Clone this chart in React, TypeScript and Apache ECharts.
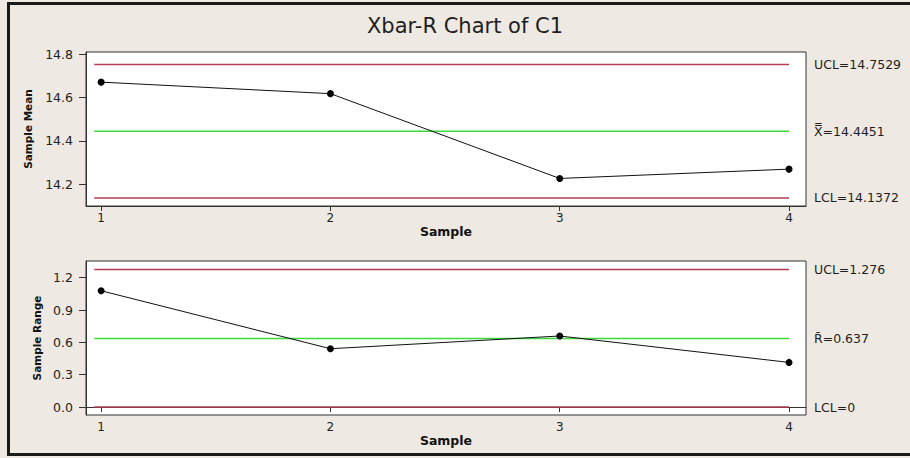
import React, { useEffect, useRef } from 'react';
import * as echarts from 'echarts';

const samples = [1, 2, 3, 4];
const sampleMeans = [14.671, 14.618, 14.227, 14.27];
const sampleRanges = [1.079, 0.541, 0.659, 0.414];
const meanLimits = [14.7529, 14.4451, 14.1372];
const meanLimitLabels = ['UCL=14.7529', 'X\u033F=14.4451', 'LCL=14.1372'];
const rangeLimits = [1.276, 0.637, 0];
const rangeLimitLabels = ['UCL=1.276', 'R\u0304=0.637', 'LCL=0'];
const meanTicks = [14.2, 14.4, 14.6, 14.8];
const rangeTicks = [0, 0.3, 0.6, 0.9, 1.2];
const limitStart = 0.97;

const FONT = 'DejaVu Sans';
const limitColors = ['#b23c50', '#3ddc3d', '#b23c50'];

function limitSeries(values: number[], labels: string[], idx: number) {
  return values.map((v, i) => ({
    type: 'line',
    xAxisIndex: idx,
    yAxisIndex: idx,
    data: [
      [limitStart, v],
      [samples[samples.length - 1], v],
    ],
    symbol: 'none',
    silent: true,
    clip: false,
    lineStyle: { color: limitColors[i], width: 1.5 },
    endLabel: {
      show: true,
      formatter: labels[i],
      distance: 25,
      color: '#1e1e1e',
      fontSize: 12.5,
      fontFamily: FONT,
    },
  }));
}

function xAxis(idx: number) {
  return {
    type: 'value',
    gridIndex: idx,
    min: 0.934,
    max: 4.074,
    axisLine: { show: true, lineStyle: { color: '#333', width: 1 } },
    axisTick: { show: true, customValues: samples, length: 5, lineStyle: { color: '#333' } },
    axisLabel: { customValues: samples, margin: 6, fontSize: 12, color: '#222', fontFamily: FONT },
    splitLine: { show: false },
    name: 'Sample',
    nameLocation: 'middle',
    nameGap: 19,
    nameTextStyle: { fontSize: 12.5, fontWeight: 'bold', color: '#111', fontFamily: FONT },
  };
}

function yAxis(idx: number, min: number, max: number, ticks: number[], name: string, gap: number) {
  return {
    type: 'value',
    gridIndex: idx,
    min,
    max,
    axisLine: { show: true, lineStyle: { color: '#333', width: 1 } },
    axisTick: { show: true, customValues: ticks, length: 7, lineStyle: { color: '#333' } },
    axisLabel: {
      customValues: ticks,
      margin: 13,
      fontSize: 12.5,
      color: '#222',
      fontFamily: FONT,
      formatter: (v: number) => v.toFixed(1),
    },
    splitLine: { show: false },
    name,
    nameLocation: 'middle',
    nameGap: gap,
    nameTextStyle: { fontSize: 10.5, fontWeight: 'bold', color: '#111', fontFamily: FONT },
  };
}

function dataSeries(values: number[], idx: number) {
  return {
    type: 'line',
    xAxisIndex: idx,
    yAxisIndex: idx,
    data: samples.map((s, i) => [s, values[i]]),
    symbol: 'circle',
    symbolSize: 7,
    itemStyle: { color: '#000' },
    lineStyle: { color: '#111', width: 1 },
    silent: true,
  };
}

export default function App() {
  const ref = useRef<HTMLDivElement>(null);
  useEffect(() => {
    if (!ref.current) return;
    const chart = echarts.init(ref.current, undefined, { renderer: 'svg' });
    chart.setOption({
      animation: false,
      backgroundColor: '#eee9e2',
      textStyle: { fontFamily: FONT },
      title: {
        text: 'Xbar-R Chart of C1',
        left: 460,
        textAlign: 'center',
        top: 10,
        textStyle: { fontSize: 21, fontWeight: 'normal', color: '#1e1e1e', fontFamily: FONT },
      },
      graphic: [
        {
          type: 'rect',
          shape: { x: 8.5, y: 3.5, width: 910, height: 451 },
          style: { fill: 'none', stroke: '#1a1a1a', lineWidth: 3 },
          silent: true,
        },
      ],
      grid: [
        { left: 86, top: 52, width: 720, height: 154, show: true, backgroundColor: '#ffffff', borderColor: '#333', borderWidth: 1 },
        { left: 86, top: 261, width: 720, height: 154, show: true, backgroundColor: '#ffffff', borderColor: '#333', borderWidth: 1 },
      ],
      xAxis: [xAxis(0), xAxis(1)],
      yAxis: [
        yAxis(0, 14.1, 14.81, meanTicks, 'Sample Mean', 53),
        yAxis(1, -0.074, 1.355, rangeTicks, 'Sample Range', 43),
      ],
      series: [
        ...limitSeries(meanLimits, meanLimitLabels, 0),
        ...limitSeries(rangeLimits, rangeLimitLabels, 1),
        dataSeries(sampleMeans, 0),
        dataSeries(sampleRanges, 1),
      ],
    });
    return () => chart.dispose();
  }, []);
  return <div ref={ref} style={{ position: 'fixed', left: 0, top: 0, width: 910, height: 458 }} />;
}
